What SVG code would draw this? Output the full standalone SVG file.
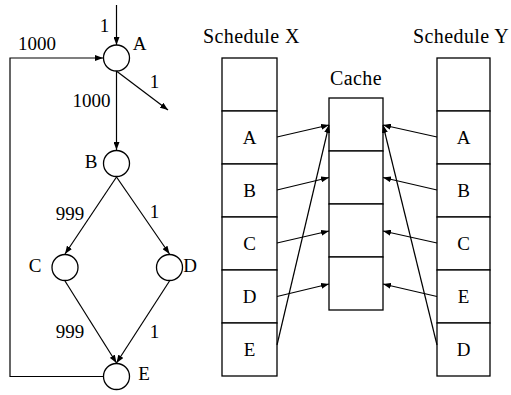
<svg xmlns="http://www.w3.org/2000/svg" width="511" height="395" viewBox="0 0 511 395">
<style>
  text { font-family: "Liberation Serif", "Times New Roman", serif; font-size: 19px; fill: #000; }
  .title { font-size: 20px; letter-spacing: 0.4px; }
  .node { fill: #fff; stroke: #000; stroke-width: 1.3; }
  .edge { fill: none; stroke: #000; stroke-width: 1.2; }
  .cell { fill: #fff; stroke: #000; stroke-width: 1.3; }
  .mid { text-anchor: middle; }
</style>
<defs>
  <marker id="ah" markerUnits="userSpaceOnUse" markerWidth="9" markerHeight="6" refX="8" refY="3" orient="auto">
    <path d="M0,0 L8,3 L0,6 z" fill="#000"/>
  </marker>
</defs>
<rect width="511" height="395" fill="#fff"/>

<!-- Graph connectors -->
<g id="graph-edges">
  <line class="edge" x1="116.5" y1="5" x2="116.5" y2="45" marker-end="url(#ah)"/>
  <path class="edge" d="M103.5,376.5 H10 V58 H103" marker-end="url(#ah)"/>
  <line class="edge" x1="116.5" y1="71" x2="116.5" y2="150" marker-end="url(#ah)"/>
  <line class="edge" x1="117" y1="71.5" x2="168" y2="110" marker-end="url(#ah)"/>
  <line class="edge" x1="116.5" y1="177" x2="65" y2="254" marker-end="url(#ah)"/>
  <line class="edge" x1="116.5" y1="177" x2="169.5" y2="254" marker-end="url(#ah)"/>
  <line class="edge" x1="65" y1="281" x2="116.5" y2="363" marker-end="url(#ah)"/>
  <line class="edge" x1="169.5" y1="281" x2="116.5" y2="363" marker-end="url(#ah)"/>
</g>
<g id="graph-labels">
  <text x="104.5" y="32" class="mid">1</text>
  <text x="37" y="50" class="mid">1000</text>
  <text x="154.5" y="88" class="mid">1</text>
  <text x="91.5" y="107" class="mid">1000</text>
  <text x="70" y="220" class="mid">999</text>
  <text x="154.5" y="218" class="mid">1</text>
  <text x="70" y="338" class="mid">999</text>
  <text x="154.5" y="338" class="mid">1</text>
</g>

<g id="node-A"><circle class="node" cx="116.5" cy="58" r="13"/><text x="139.5" y="50" class="mid">A</text></g>
<g id="node-B"><circle class="node" cx="116.5" cy="163.5" r="13"/><text x="91" y="168" class="mid">B</text></g>
<g id="node-C"><circle class="node" cx="65" cy="267.5" r="13"/><text x="35" y="272" class="mid">C</text></g>
<g id="node-D"><circle class="node" cx="169.5" cy="267.5" r="13"/><text x="190" y="272" class="mid">D</text></g>
<g id="node-E"><circle class="node" cx="116.5" cy="376.5" r="13"/><text x="144" y="380" class="mid">E</text></g>

<!-- Schedule X -->
<g id="schedule-x">
  <text x="203" y="43" class="title">Schedule X</text>
  <rect class="cell" x="222" y="58" width="55" height="53"/>
  <rect class="cell" x="222" y="111" width="55" height="53"/>
  <rect class="cell" x="222" y="164" width="55" height="53"/>
  <rect class="cell" x="222" y="217" width="55" height="53"/>
  <rect class="cell" x="222" y="270" width="55" height="53"/>
  <rect class="cell" x="222" y="323" width="55" height="53"/>
  <text x="249.5" y="143.5" class="mid">A</text>
  <text x="249.5" y="196.5" class="mid">B</text>
  <text x="249.5" y="249.5" class="mid">C</text>
  <text x="249.5" y="302.5" class="mid">D</text>
  <text x="249.5" y="355.5" class="mid">E</text>
</g>

<!-- Cache -->
<g id="cache">
  <text x="356" y="85" class="mid title">Cache</text>
  <rect class="cell" x="329" y="98" width="54" height="53"/>
  <rect class="cell" x="329" y="151" width="54" height="53"/>
  <rect class="cell" x="329" y="204" width="54" height="53"/>
  <rect class="cell" x="329" y="257" width="54" height="53"/>
</g>

<!-- Schedule Y -->
<g id="schedule-y">
  <text x="413" y="43" class="title">Schedule Y</text>
  <rect class="cell" x="437" y="58" width="53" height="53"/>
  <rect class="cell" x="437" y="111" width="53" height="53"/>
  <rect class="cell" x="437" y="164" width="53" height="53"/>
  <rect class="cell" x="437" y="217" width="53" height="53"/>
  <rect class="cell" x="437" y="270" width="53" height="53"/>
  <rect class="cell" x="437" y="323" width="53" height="53"/>
  <text x="463.5" y="143.5" class="mid">A</text>
  <text x="463.5" y="196.5" class="mid">B</text>
  <text x="463.5" y="249.5" class="mid">C</text>
  <text x="463.5" y="302.5" class="mid">E</text>
  <text x="463.5" y="355.5" class="mid">D</text>
</g>

<!-- Mapping connectors -->
<g id="cache-edges">
  <line class="edge" x1="277" y1="137" x2="329" y2="125" marker-end="url(#ah)"/>
  <line class="edge" x1="277" y1="190" x2="329" y2="177.5" marker-end="url(#ah)"/>
  <line class="edge" x1="277" y1="243" x2="329" y2="231" marker-end="url(#ah)"/>
  <line class="edge" x1="277" y1="296.5" x2="329" y2="284" marker-end="url(#ah)"/>
  <line class="edge" x1="277" y1="345" x2="329" y2="125" marker-end="url(#ah)"/>
  <line class="edge" x1="437" y1="137" x2="383" y2="125" marker-end="url(#ah)"/>
  <line class="edge" x1="437" y1="190" x2="383" y2="177.5" marker-end="url(#ah)"/>
  <line class="edge" x1="437" y1="243" x2="383" y2="231" marker-end="url(#ah)"/>
  <line class="edge" x1="437" y1="296.5" x2="383" y2="284" marker-end="url(#ah)"/>
  <line class="edge" x1="437" y1="345" x2="383" y2="125" marker-end="url(#ah)"/>
</g>
</svg>
